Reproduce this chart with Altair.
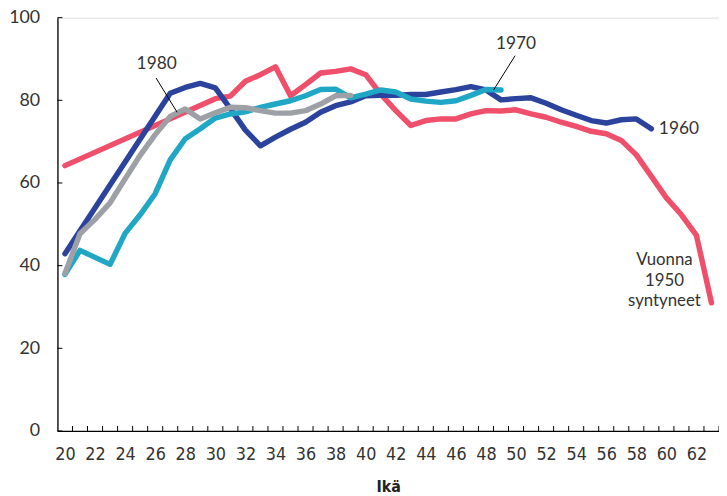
import altair as alt
import pandas as pd

# ---- data ----
ages_1950 = [20, 30, 31, 32, 33, 34, 35, 36, 37, 38, 39, 40, 41, 42, 43, 44, 45, 46,
             47, 48, 49, 50, 51, 52, 53, 54, 55, 56, 57, 58, 59, 60, 61, 62, 63]
vals_1950 = [64.2, 80.4, 81.0, 84.6, 86.2, 88.1, 81.1, 83.8, 86.6, 87.0, 87.6, 86.2,
             81.5, 77.5, 73.9, 75.1, 75.5, 75.5, 76.7, 77.5, 77.4, 77.7, 76.7, 75.9,
             74.7, 73.7, 72.5, 71.9, 70.3, 66.8, 61.6, 56.4, 52.3, 47.3, 31.0]

ages_1960 = [20, 27, 28, 29, 30, 31, 32, 33, 34, 35, 36, 37, 38, 39, 40, 41, 42, 43,
             44, 45, 46, 47, 48, 49, 50, 51, 52, 53, 54, 55, 56, 57, 58, 59]
vals_1960 = [42.9, 81.7, 83.1, 84.1, 83.0, 78.0, 72.8, 69.0, 71.1, 73.0, 74.7, 77.1,
             78.7, 79.6, 81.1, 81.2, 81.2, 81.4, 81.4, 82.0, 82.6, 83.3, 82.5, 80.1,
             80.4, 80.6, 79.3, 77.7, 76.4, 75.1, 74.5, 75.3, 75.5, 73.1]

ages_1970 = list(range(20, 50))
vals_1970 = [37.9, 43.7, 42.0, 40.3, 47.8, 52.3, 57.4, 65.6, 70.7, 73.1, 75.7, 76.7,
             77.2, 78.3, 79.1, 79.9, 81.1, 82.6, 82.7, 80.6, 81.5, 82.5, 82.0, 80.3,
             79.8, 79.5, 79.9, 81.2, 82.6, 82.5]

ages_1980 = list(range(20, 40))
vals_1980 = [38.1, 47.7, 51.2, 55.2, 61.0, 66.7, 71.7, 76.1, 77.9, 75.5, 77.0, 78.3,
             78.2, 77.5, 76.9, 76.9, 77.5, 79.1, 81.1, 81.2]

x_labels = list(range(20, 63, 2))
y_labels = [0, 20, 40, 60, 80, 100]
x_tick_pos = [a + 0.5 for a in range(20, 64)]

# annotation texts and their anchor values
label_texts = ["1980", "1970", "1960"]
label_ages = [26.1, 50.0, 59.5]
label_vals = [88.8, 93.7, 73.0]
label_align = ["center", "center", "left"]

note_lines = ["Vuonna", "1950", "syntyneet"]
note_age = 59.87
note_vals = [41.3, 36.3, 31.4]

pointer_age = [26.06, 49.94]
pointer_val = [85.4, 90.8]
pointer_age2 = [27.46, 48.51]
pointer_val2 = [77.1, 82.5]

colors = {"1950": "#ef4f6a", "1960": "#2b439c", "1970": "#20a7c6", "1980": "#9da1a6"}

LABEL_FONT = "Lato"
NARROW = "Liberation Sans Narrow, DejaVu Sans Condensed, Roboto"
TEXT = "#333333"

X = alt.X(
    "age:Q",
    scale=alt.Scale(domain=[19.5, 63.5], nice=False, zero=False),
    axis=alt.Axis(
        values=x_labels, ticks=False, grid=False, labelPadding=15,
        labelFont=NARROW, labelFontSize=18, labelColor=TEXT,
        labelFlush=False, labelOverlap=False,
        domainColor="black", domainWidth=1.3,
        title="Ikä", titleFont=NARROW, titleFontSize=16, titleFontWeight="bold",
        titleColor="#222222", titlePadding=15,
    ),
)
Y = alt.Y(
    "val:Q",
    scale=alt.Scale(domain=[0, 100], nice=False),
    axis=alt.Axis(
        values=y_labels, ticks=False, grid=False, labelPadding=18,
        labelFont=LABEL_FONT, labelFontSize=18, labelColor=TEXT,
        labelFlush=False, domainColor="black", domainWidth=1.3, title=None,
    ),
)

W, H = 669, 418

yt = alt.Chart(pd.DataFrame({"val": y_labels})).mark_rule(color="black", strokeWidth=1).encode(
    y=Y, x=alt.value(0), x2=alt.value(5))
xt = alt.Chart(pd.DataFrame({"age": x_tick_pos})).mark_rule(color="black", strokeWidth=1).encode(
    x=X, y=alt.value(H), y2=alt.value(H - 5))


def series(ages, vals, key):
    df = pd.DataFrame({"age": ages, "val": vals})
    return alt.Chart(df).mark_line(
        color=colors[key], strokeWidth=5.5, strokeCap="round", strokeJoin="round"
    ).encode(x=X, y=Y, order="age:Q")


lines = [series(ages_1950, vals_1950, "1950"),
         series(ages_1960, vals_1960, "1960"),
         series(ages_1970, vals_1970, "1970"),
         series(ages_1980, vals_1980, "1980")]

pointers = alt.Chart(pd.DataFrame({
    "age": pointer_age, "val": pointer_val, "age2": pointer_age2, "val2": pointer_val2
})).mark_rule(color="black", strokeWidth=1).encode(x=X, y=Y, x2="age2:Q", y2="val2:Q")

labels_df = pd.DataFrame({"age": label_ages, "val": label_vals, "t": label_texts, "al": label_align})
lab_c = alt.Chart(labels_df[labels_df.al == "center"]).mark_text(
    font=LABEL_FONT, fontSize=17.5, color=TEXT, align="center", baseline="middle"
).encode(x=X, y=Y, text="t:N")
lab_l = alt.Chart(labels_df[labels_df.al == "left"]).mark_text(
    font=LABEL_FONT, fontSize=17.5, color=TEXT, align="left", baseline="middle"
).encode(x=X, y=Y, text="t:N")

note = alt.Chart(pd.DataFrame({"age": [note_age] * 3, "val": note_vals, "t": note_lines})).mark_text(
    font=LABEL_FONT, fontSize=17, color=TEXT, align="center", baseline="middle"
).encode(x=X, y=Y, text="t:N")

chart = alt.layer(yt, xt, *lines, pointers, lab_c, lab_l, note).properties(
    width=W, height=H,
    autosize=alt.AutoSizeParams(type="none"),
    padding={"left": 50, "top": 7, "right": 0, "bottom": 63},
).configure_view(stroke=None).configure(background="white")

chart.save("out.html", embed_options={"renderer": "svg", "actions": False})
